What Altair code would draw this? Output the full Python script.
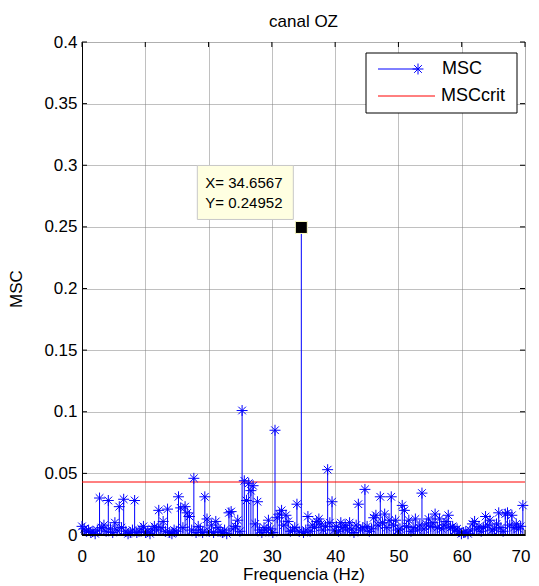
import altair as alt
import pandas as pd

# ---------------- data ----------------
freq_step = 0.346567  # frequency resolution (Hz)
msc = [
    0.007, 0.005, 0.003, 0.004, 0.002, 0.003, 0.001, 0.004, 0.030, 0.006,
    0.008, 0.003, 0.028, 0.005, 0.002, 0.010, 0.004, 0.023, 0.006, 0.029,
    0.003, 0.001, 0.002, 0.004, 0.028, 0.002, 0.003, 0.005, 0.007, 0.002,
    0.003, 0.001, 0.005, 0.007, 0.004, 0.020, 0.006, 0.011, 0.003, 0.021,
    0.002, 0.001, 0.004, 0.003, 0.031, 0.022, 0.006, 0.023, 0.018, 0.015,
    0.004, 0.046, 0.002, 0.007, 0.004, 0.002, 0.031, 0.013, 0.003, 0.008,
    0.002, 0.011, 0.006, 0.003, 0.002, 0.004, 0.001, 0.018, 0.019, 0.005,
    0.007, 0.012, 0.003, 0.101, 0.044, 0.028, 0.042, 0.036, 0.040, 0.009,
    0.027, 0.004, 0.002, 0.006, 0.004, 0.012, 0.005, 0.002, 0.085, 0.014,
    0.017, 0.020, 0.008, 0.016, 0.011, 0.003, 0.004, 0.006, 0.025, 0.003,
    0.24952, 0.002, 0.004, 0.015, 0.003, 0.008, 0.006, 0.011, 0.013, 0.009,
    0.004, 0.007, 0.053, 0.010, 0.027, 0.004, 0.007, 0.003, 0.010, 0.006,
    0.008, 0.004, 0.010, 0.005, 0.002, 0.008, 0.025, 0.004, 0.006, 0.037,
    0.007, 0.003, 0.005, 0.014, 0.016, 0.008, 0.031, 0.010, 0.017, 0.006,
    0.012, 0.031, 0.008, 0.012, 0.004, 0.005, 0.024, 0.020, 0.007, 0.012,
    0.003, 0.006, 0.013, 0.004, 0.008, 0.034, 0.005, 0.009, 0.013, 0.007,
    0.010, 0.017, 0.006, 0.013, 0.005, 0.008, 0.011, 0.016, 0.006, 0.007,
    0.004, 0.005, 0.003, 0.001, 0.002, 0.003, 0.001, 0.004, 0.009, 0.011,
    0.005, 0.007, 0.003, 0.006, 0.015, 0.008, 0.012, 0.004, 0.005, 0.009,
    0.018, 0.006, 0.003, 0.017, 0.018, 0.008, 0.016, 0.006, 0.009, 0.005,
    0.007, 0.024,
]
freq = [round(i * freq_step, 4) for i in range(len(msc))]

msc_crit = [0.043]
x_ticks = [0, 10, 20, 30, 40, 50, 60, 70]
y_ticks = [0, 0.05, 0.1, 0.15, 0.2, 0.25, 0.3, 0.35, 0.4]
tip_x = [34.6567]
tip_y = [0.24952]
tip_labels = ["X= 34.6567", "Y= 0.24952"]
legend_labels = ["MSC", "MSCcrit"]
chart_title = "canal OZ"
x_title = "Frequencia (Hz)"
y_title = "MSC"

# ---------------- styling ----------------
W, H = 443, 493
FONT = "Liberation Sans"
BLUE = "#0000ff"
RED = "#ff0000"
STAR = "M-1,0L1,0M0,-1L0,1M-0.7,-0.7L0.7,0.7M-0.7,0.7L0.7,-0.7"
STAR_SIZE = 120

df = pd.DataFrame({"f": freq, "msc": msc})
crit_df = pd.DataFrame({"f": [0.0], "msc": msc_crit})
xt_df = pd.DataFrame({"f": x_ticks})
yt_df = pd.DataFrame({"msc": y_ticks})
tip_df = pd.DataFrame({"f": tip_x, "msc": tip_y})
one = pd.DataFrame({"k": [0]})

xs = alt.Scale(domain=[0, 70], nice=False, zero=False)
ys = alt.Scale(domain=[0, 0.4], nice=False, zero=False)

xaxis = alt.Axis(
    values=x_ticks, title=x_title, grid=True, gridColor="#808080",
    gridDash=[1, 1], gridWidth=1, ticks=False, domainColor="black",
    labelFont=FONT, labelFontSize=17, labelColor="black", labelPadding=13,
    labelFlush=True, labelFlushOffset=5,
    titleFont=FONT, titleFontSize=17, titleFontWeight="normal",
    titleColor="black", titlePadding=2,
)
yaxis = alt.Axis(
    values=y_ticks, title=y_title, format="~g", grid=True,
    gridColor="#808080", gridDash=[1, 1], gridWidth=1, ticks=False,
    domainColor="black", labelFont=FONT, labelFontSize=17,
    labelColor="black", labelPadding=5, labelFlush=False,
    titleFont=FONT, titleFontSize=17,
    titleFontWeight="normal", titleColor="black", titlePadding=18,
)


def X():
    return alt.X("f:Q", scale=xs, axis=xaxis)


def Y():
    return alt.Y("msc:Q", scale=ys, axis=yaxis)


stems = alt.Chart(df).mark_rule(color=BLUE, strokeWidth=1).encode(
    x=X(), y=Y(), y2=alt.datum(0),
)
markers = alt.Chart(df).mark_point(
    shape=STAR, size=STAR_SIZE, filled=False, color=BLUE, strokeWidth=1, opacity=1
).encode(x=X(), y=Y())

baseline = alt.Chart(crit_df).mark_rule(color="black", strokeWidth=2).encode(
    y=alt.datum(0), x=alt.value(0), x2=alt.value(W)
)
crit = alt.Chart(crit_df).mark_rule(color=RED, strokeWidth=1).encode(
    y=Y(), x=alt.value(0), x2=alt.value(W)
)

# inward ticks on all four sides
tk = dict(color="black", strokeWidth=1)
t_bottom = alt.Chart(xt_df).mark_rule(**tk).encode(
    x=X(), y=alt.value(H), y2=alt.value(H - 5))
t_top = alt.Chart(xt_df).mark_rule(**tk).encode(
    x=X(), y=alt.value(0), y2=alt.value(5))
t_left = alt.Chart(yt_df).mark_rule(**tk).encode(
    y=Y(), x=alt.value(0), x2=alt.value(5))
t_right = alt.Chart(yt_df).mark_rule(**tk).encode(
    y=Y(), x=alt.value(W), x2=alt.value(W - 5))

# data tip
tip_box = alt.Chart(tip_df).mark_rect(
    fill="#ffffe1", stroke="#c8c8c8", strokeWidth=1,
    xOffset=-104, x2Offset=-8, yOffset=-62, y2Offset=-8,
).encode(x=X(), x2="f:Q", y=Y(), y2="msc:Q")
tip_t1 = alt.Chart(tip_df).mark_text(
    align="left", baseline="middle", dx=-96, dy=-44, font=FONT,
    fontSize=15, color="black",
).encode(x=X(), y=Y(), text=alt.value(tip_labels[0]))
tip_t2 = alt.Chart(tip_df).mark_text(
    align="left", baseline="middle", dx=-96, dy=-24, font=FONT,
    fontSize=15, color="black",
).encode(x=X(), y=Y(), text=alt.value(tip_labels[1]))
tip_sq = alt.Chart(tip_df).mark_point(
    shape="square", size=144, filled=True, fill="black", stroke="#ffffc8",
    strokeWidth=1, opacity=1,
).encode(x=X(), y=Y())

# legend
lg_box = alt.Chart(one).mark_rect(fill="white", stroke="black", strokeWidth=1).encode(
    x=alt.value(284), x2=alt.value(435), y=alt.value(11), y2=alt.value(71))
lg_l1 = alt.Chart(one).mark_rule(color=BLUE, strokeWidth=1).encode(
    x=alt.value(296), x2=alt.value(336), y=alt.value(27))
lg_m1 = alt.Chart(one).mark_point(
    shape=STAR, size=STAR_SIZE, filled=False, color=BLUE, strokeWidth=1, opacity=1
).encode(x=alt.value(336), y=alt.value(27))
lg_t1 = alt.Chart(one).mark_text(
    align="left", baseline="middle", font=FONT, fontSize=18, color="black"
).encode(x=alt.value(360), y=alt.value(27), text=alt.value(legend_labels[0]))
lg_l2 = alt.Chart(one).mark_rule(color=RED, strokeWidth=1).encode(
    x=alt.value(296), x2=alt.value(353), y=alt.value(54))
lg_t2 = alt.Chart(one).mark_text(
    align="left", baseline="middle", font=FONT, fontSize=18, color="black"
).encode(x=alt.value(359), y=alt.value(54), text=alt.value(legend_labels[1]))

chart = alt.layer(
    stems, crit, markers, baseline, t_bottom, t_top, t_left, t_right,
    tip_box, tip_t1, tip_t2, tip_sq,
    lg_box, lg_l1, lg_m1, lg_t1, lg_l2, lg_t2,
).properties(
    width=W, height=H,
    title=alt.TitleParams(chart_title, font=FONT, fontSize=17,
                          fontWeight="normal", color="black", offset=2),
    autosize=alt.AutoSizeParams(type="none"),
    padding={"left": 74, "top": 34, "right": 6, "bottom": 50},
).configure_view(stroke="black", strokeWidth=1).configure(background="white")

chart.save("out.html", embed_options={"renderer": "svg", "actions": False})
